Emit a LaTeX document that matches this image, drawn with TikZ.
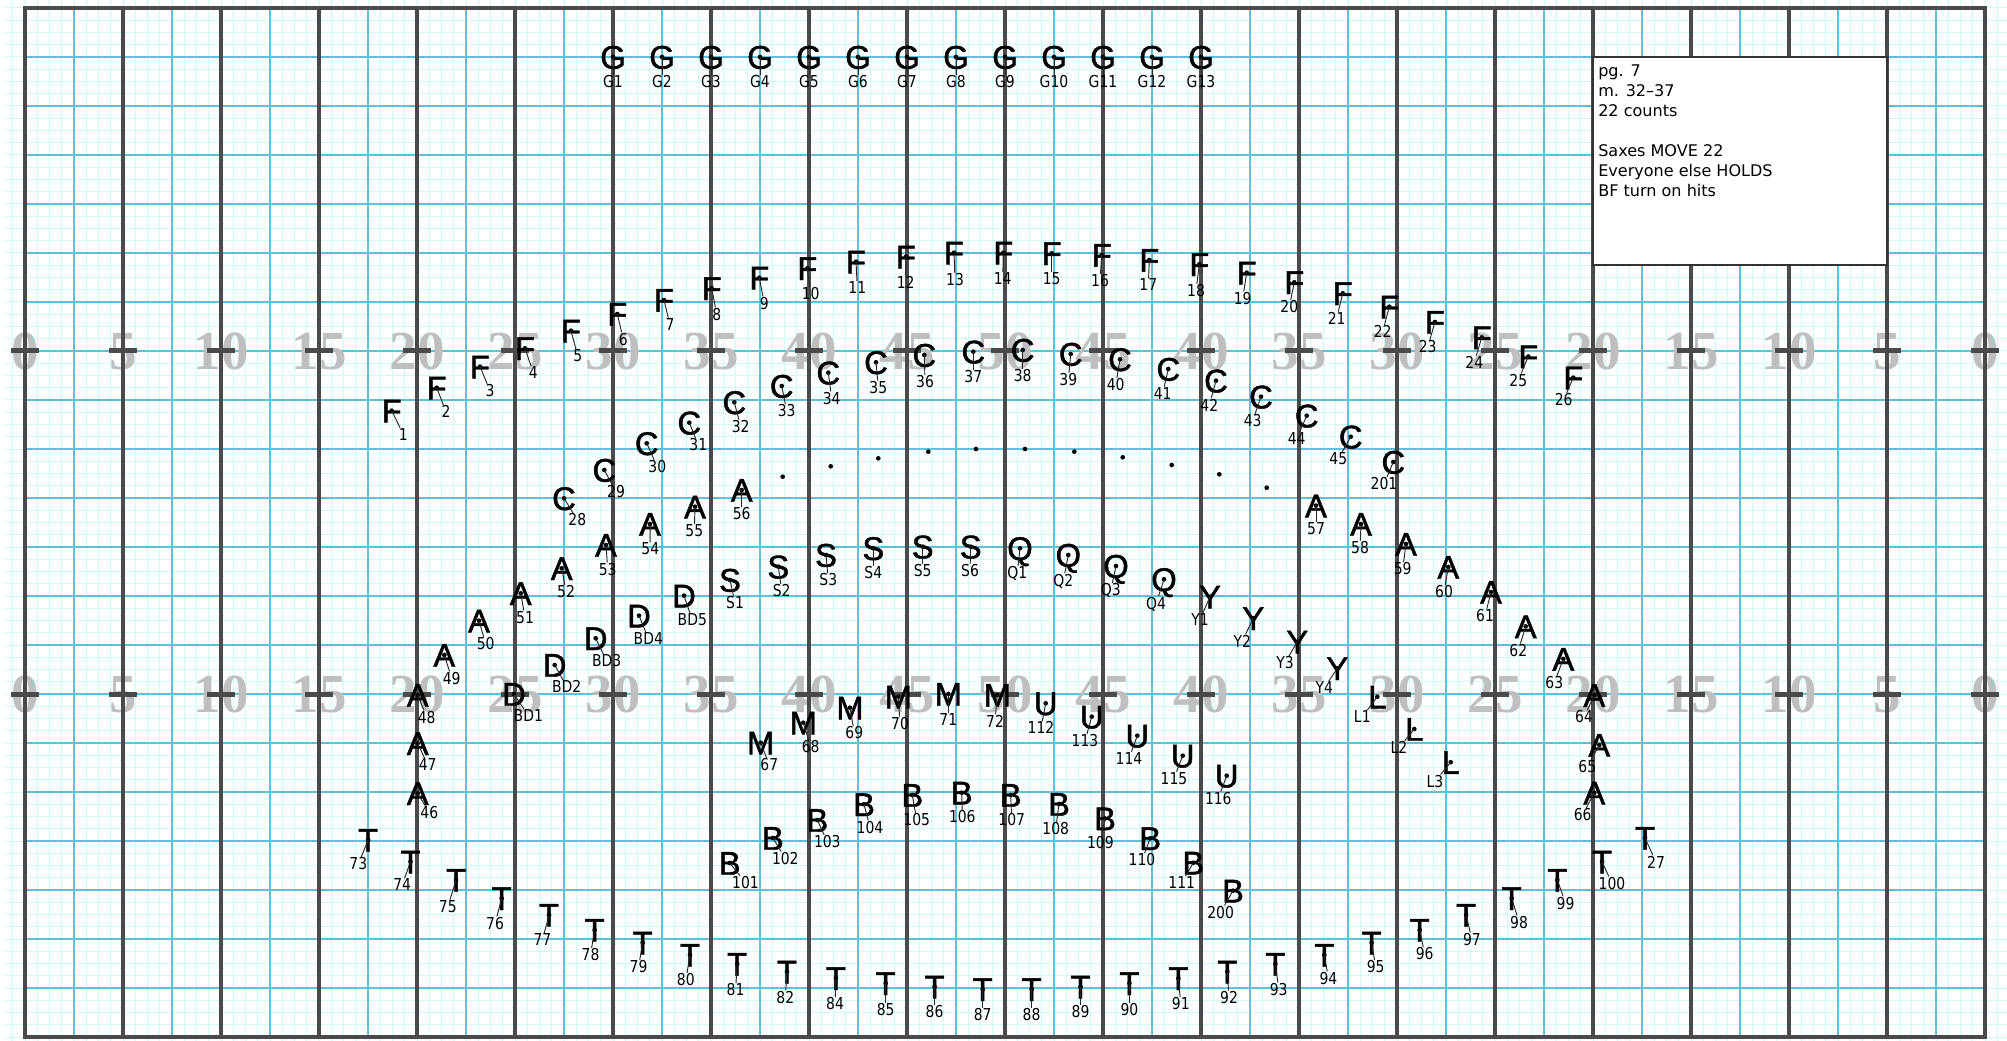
\documentclass[tikz,border=0pt]{standalone}
\usepackage{fontspec}
\setmainfont{DejaVu Sans}
\newfontfamily\symfont[FakeBold=1.3]{Liberation Sans}
\newfontfamily\lblfont[FakeStretch=0.85]{DejaVu Sans}
\newfontfamily\yardfont{Liberation Serif}
\definecolor{minorc}{HTML}{CCFBFF}
\definecolor{medc}{HTML}{5EC1D9}
\definecolor{yardc}{HTML}{4A4A4A}
\definecolor{numc}{HTML}{BFBFBF}
\tikzset{
 minorln/.style={draw=minorc, line width=0.3mm},
 medln/.style={draw=medc, line width=0.55mm},
 yardln/.style={draw=yardc, line width=1.2mm},
 hashmk/.style={draw=yardc, line width=1.5mm},
 yardnum/.style={text=numc, font=\yardfont\bfseries\fontsize{47}{47}\selectfont, inner sep=0, text height=31.5pt, text depth=0pt},
 symb/.style={font=\symfont\fontsize{28}{28}\selectfont, inner sep=0, text height=20pt, text depth=0pt},
 dotn/.style={circle, fill=black, inner sep=0, minimum size=1.4mm},
 lbl/.style={font=\lblfont\fontsize{14}{14}\selectfont, inner sep=0.3pt},
 conn/.style={draw=black!85, line width=0.28mm},
 infotxt/.style={font=\fontsize{13.7}{17}\selectfont, inner sep=0, anchor=base west},
 infobox/.style={draw=black!80, fill=white, line width=0.6mm},
}
\newcommand\drillpt[7]{%
  \node[symb] (#1s) at ({#3},{#4}) {#2};
  \node[dotn] (#1) at ({#3},{#4}) {};
  \node[lbl] (#1l) at ({#6},{#7}) {#5};
  \draw[conn] (#1.center) -- (#1l);
}
\begin{document}
\begin{tikzpicture}[x=0.3mm, y=-0.3mm]
\useasboundingbox (0,0) rectangle (2007,1041);
% minor grid
\foreach \k in {-1,...,161} \draw[minorln] ({25+12.25*\k},0) -- ({25+12.25*\k},1041);
\foreach \j in {0,...,84} \draw[minorln] (5,{8+12.25*\j}) -- (2007,{8+12.25*\j});
% medium grid
\foreach \k in {0,...,19} \draw[medln] ({74+98*\k},8) -- ({74+98*\k},1037);
\foreach \j in {1,...,20} \draw[medln] (25,{8+49*\j}) -- (1985,{8+49*\j});
% yard numbers
\foreach \k [evaluate=\k as \v using {int(5*min(\k,20-\k))}] in {0,...,20} {
  \node[yardnum] (yna\k) at ({25+98*\k},351) {\v};
  \node[yardnum] (ynb\k) at ({25+98*\k},694) {\v};
}
% yard lines and border
\foreach \k in {0,...,20} \draw[yardln] ({25+98*\k},8) -- ({25+98*\k},1037);
\draw[yardln] (25,8) rectangle (1985,1037);
% hashes
\foreach \k in {0,...,20} {
  \draw[hashmk] ({11+98*\k},351) -- ({39+98*\k},351);
  \draw[hashmk] ({11+98*\k},694) -- ({39+98*\k},694);
}
% info box
\draw[infobox] (1593,57) rectangle (1887,265);
\node[infotxt] (i1) at (1598,77) {pg. 7};
\node[infotxt] (i2) at (1598,97) {m. 32–37};
\node[infotxt] (i3) at (1598,117) {22 counts};
\node[infotxt] (i4) at (1598,157) {Saxes MOVE 22};
\node[infotxt] (i5) at (1598,177) {Everyone else HOLDS};
\node[infotxt] (i6) at (1598,197) {BF turn on hits};
% G
\drillpt{g1}{G}{613}{57}{G1}{613}{82}
\drillpt{g2}{G}{662}{57}{G2}{662}{82}
\drillpt{g3}{G}{711}{57}{G3}{711}{82}
\drillpt{g4}{G}{760}{57}{G4}{760}{82}
\drillpt{g5}{G}{809}{57}{G5}{809}{82}
\drillpt{g6}{G}{858}{57}{G6}{858}{82}
\drillpt{g7}{G}{907}{57}{G7}{907}{82}
\drillpt{g8}{G}{956}{57}{G8}{956}{82}
\drillpt{g9}{G}{1005}{57}{G9}{1005}{82}
\drillpt{g10}{G}{1054}{57}{G10}{1054}{82}
\drillpt{g11}{G}{1103}{57}{G11}{1103}{82}
\drillpt{g12}{G}{1152}{57}{G12}{1152}{82}
\drillpt{g13}{G}{1201}{57}{G13}{1201}{82}
% F
\drillpt{f1}{F}{391.7}{410.7}{1}{403.3}{434.3}
\drillpt{f2}{F}{436.7}{387.7}{2}{446}{411.7}
\drillpt{f3}{F}{480}{366.7}{3}{490}{390.7}
\drillpt{f4}{F}{525}{348.3}{4}{533.3}{372.7}
\drillpt{f5}{F}{571}{330.7}{5}{577.7}{355.7}
\drillpt{f6}{F}{617.3}{314}{6}{623.3}{339.3}
\drillpt{f7}{F}{664}{300}{7}{670}{325}
\drillpt{f8}{F}{711.7}{288.3}{8}{716.7}{314.3}
\drillpt{f9}{F}{759.3}{277.7}{9}{764.3}{303.3}
\drillpt{f10}{F}{807.3}{268.3}{10}{810.7}{294}
\drillpt{f11}{F}{856}{261.7}{11}{857.3}{287.7}
\drillpt{f12}{F}{906}{256.7}{12}{905.7}{282.3}
\drillpt{f13}{F}{954}{252.7}{13}{955}{280}
\drillpt{f14}{F}{1003.3}{252.7}{14}{1002.7}{278.7}
\drillpt{f15}{F}{1051.7}{253.3}{15}{1051.7}{278.7}
\drillpt{f16}{F}{1101.7}{255}{16}{1100}{281}
\drillpt{f17}{F}{1149.3}{260}{17}{1148.3}{285}
\drillpt{f18}{F}{1199.3}{264.3}{18}{1196}{290.7}
\drillpt{f19}{F}{1246.7}{272.7}{19}{1242.7}{298.3}
\drillpt{f20}{F}{1294.3}{282.3}{20}{1289.3}{306.7}
\drillpt{f21}{F}{1342.7}{293.3}{21}{1336.7}{318.3}
\drillpt{f22}{F}{1389.3}{306.7}{22}{1382.7}{331.7}
\drillpt{f23}{F}{1435}{322}{23}{1427.7}{347}
\drillpt{f24}{F}{1481.7}{337.4}{24}{1474.3}{362.3}
\drillpt{f25}{F}{1528.3}{356.5}{25}{1518.3}{380.3}
\drillpt{f26}{F}{1573.3}{377.6}{26}{1563.7}{399.8}
% C
\drillpt{c28}{C}{564}{498.3}{28}{577.3}{520}
\drillpt{c29}{C}{604.3}{470}{29}{616}{491.7}
\drillpt{c30}{C}{646.7}{443.3}{30}{657.3}{466.7}
\drillpt{c31}{C}{689.3}{422.7}{31}{698.3}{445}
\drillpt{c32}{C}{734.3}{402.3}{32}{740.7}{426.7}
\drillpt{c33}{C}{781.7}{386}{33}{786.7}{410.7}
\drillpt{c34}{C}{828.3}{372.7}{34}{831.7}{398.3}
\drillpt{c35}{C}{876}{362.3}{35}{878.3}{387.3}
\drillpt{c36}{C}{924.3}{355}{36}{925}{381.7}
\drillpt{c37}{C}{973.3}{351.7}{37}{973.3}{376.7}
\drillpt{c38}{C}{1022.7}{350}{38}{1022.7}{375.7}
\drillpt{c39}{C}{1070.7}{354}{39}{1068.3}{380}
\drillpt{c40}{C}{1120}{359.3}{40}{1115.7}{385}
\drillpt{c41}{C}{1168.3}{369}{41}{1162.7}{393.3}
\drillpt{c42}{C}{1216}{380.7}{42}{1209.3}{405}
\drillpt{c43}{C}{1261}{396.7}{43}{1252.7}{420.7}
\drillpt{c44}{C}{1306.7}{415.7}{44}{1296.7}{439}
\drillpt{c45}{C}{1350.7}{436.7}{45}{1338.3}{459}
\drillpt{c201}{C}{1393.3}{462}{201}{1384}{484}
% plain dots
\node[dotn] (d1) at (782.7,476.7) {};
\node[dotn] (d2) at (830.7,466.3) {};
\node[dotn] (d3) at (878.3,458.3) {};
\node[dotn] (d4) at (928.3,451.7) {};
\node[dotn] (d5) at (976,449) {};
\node[dotn] (d6) at (1025,449) {};
\node[dotn] (d7) at (1074.3,451.7) {};
\node[dotn] (d8) at (1122.7,457.3) {};
\node[dotn] (d9) at (1171.7,465) {};
\node[dotn] (d10) at (1219.3,474.3) {};
\node[dotn] (d11) at (1266.7,487.7) {};
% A
\drillpt{a46}{A}{417.7}{793.3}{46}{429.3}{812.7}
\drillpt{a47}{A}{417.7}{743.3}{47}{427.7}{765}
\drillpt{a48}{A}{417.7}{695}{48}{426.7}{717.3}
\drillpt{a49}{A}{444.3}{655}{49}{451.7}{678.3}
\drillpt{a50}{A}{479}{620.7}{50}{485.7}{644}
\drillpt{a51}{A}{520.7}{593.3}{51}{525}{617.3}
\drillpt{a52}{A}{561.7}{568.3}{52}{566}{591.7}
\drillpt{a53}{A}{606}{545}{53}{607.7}{569.3}
\drillpt{a54}{A}{650}{524}{54}{650.3}{549}
\drillpt{a55}{A}{695}{506.7}{55}{694.3}{530.7}
\drillpt{a56}{A}{741.7}{490}{56}{741.7}{514}
\drillpt{a57}{A}{1316}{505.6}{57}{1316}{529}
\drillpt{a58}{A}{1361}{524}{58}{1360}{547.5}
\drillpt{a59}{A}{1406}{544}{59}{1402.7}{569}
\drillpt{a60}{A}{1448.3}{567}{60}{1444}{592}
\drillpt{a61}{A}{1491}{592}{61}{1485}{616}
\drillpt{a62}{A}{1525.7}{626.4}{62}{1518.3}{650.4}
\drillpt{a63}{A}{1563.3}{658.9}{63}{1554.3}{682.6}
\drillpt{a64}{A}{1594.3}{695.2}{64}{1584}{717}
\drillpt{a65}{A}{1599.3}{745}{65}{1587.3}{766.8}
\drillpt{a66}{A}{1594.3}{792.8}{66}{1582.7}{814.6}
% D
\drillpt{bd1}{D}{514}{694}{BD1}{528.3}{715.7}
\drillpt{bd2}{D}{554.7}{665}{BD2}{566.7}{686.7}
\drillpt{bd3}{D}{595.7}{638.3}{BD3}{606.7}{661}
\drillpt{bd4}{D}{639}{615.7}{BD4}{648.3}{638.3}
\drillpt{bd5}{D}{684}{595.7}{BD5}{692.3}{620}
% S
\drillpt{s1}{S}{730}{580}{S1}{735}{602.7}
\drillpt{s2}{S}{778.3}{566.7}{S2}{781.7}{590.7}
\drillpt{s3}{S}{826}{555}{S3}{828.3}{580}
\drillpt{s4}{S}{873.3}{548.3}{S4}{873.3}{572.7}
\drillpt{s5}{S}{922.7}{546.7}{S5}{922.7}{570.7}
\drillpt{s6}{S}{970.7}{546.7}{S6}{970}{570.7}
% Q
\drillpt{q1}{Q}{1020}{548.3}{Q1}{1017.3}{573.3}
\drillpt{q2}{Q}{1068.3}{555}{Q2}{1063.3}{581}
\drillpt{q3}{Q}{1116}{566}{Q3}{1110.7}{590.7}
\drillpt{q4}{Q}{1164}{579.3}{Q4}{1156}{604}
% Y
\drillpt{y1}{Y}{1210}{596.7}{Y1}{1200}{619.3}
\drillpt{y2}{Y}{1253.3}{618.3}{Y2}{1242.3}{641}
\drillpt{y3}{Y}{1297.3}{641.7}{Y3}{1285}{662.7}
\drillpt{y4}{Y}{1337.3}{668.3}{Y4}{1324.3}{687.7}
% L
\drillpt{l1}{L}{1377.3}{696.7}{L1}{1362.3}{716.7}
\drillpt{l2}{L}{1414.3}{729}{L2}{1399}{747.7}
\drillpt{l3}{L}{1450.7}{762.2}{L3}{1435}{781.3}
% M
\drillpt{m67}{M}{760.7}{742.7}{67}{769.3}{765}
\drillpt{m68}{M}{803.3}{722.7}{68}{810.7}{746.7}
\drillpt{m69}{M}{850}{707.7}{69}{854.3}{732.7}
\drillpt{m70}{M}{898.3}{696.7}{70}{900}{723.3}
\drillpt{m71}{M}{948.3}{694}{71}{948.3}{719.3}
\drillpt{m72}{M}{997.3}{695}{72}{995}{721}
% U
\drillpt{u112}{U}{1045.7}{703.3}{112}{1041}{727.7}
\drillpt{u113}{U}{1091.7}{716.7}{113}{1085}{741}
\drillpt{u114}{U}{1137.3}{735.7}{114}{1129}{758.3}
\drillpt{u115}{U}{1182.7}{755.7}{115}{1174}{778.3}
\drillpt{u116}{U}{1226.7}{775.7}{116}{1218.3}{798.3}
% B
\drillpt{b101}{B}{729.8}{863}{101}{745.5}{882.7}
\drillpt{b102}{B}{772.9}{838}{102}{785.3}{858.3}
\drillpt{b103}{B}{817.3}{820}{103}{827.3}{841.7}
\drillpt{b104}{B}{864}{804.3}{104}{870}{827.3}
\drillpt{b105}{B}{912.3}{795}{105}{916.7}{820}
\drillpt{b106}{B}{961.7}{792.7}{106}{962.3}{816.7}
\drillpt{b107}{B}{1010.7}{795}{107}{1011.7}{820}
\drillpt{b108}{B}{1059}{804}{108}{1055.7}{829}
\drillpt{b109}{B}{1105}{818.5}{109}{1100.4}{842.3}
\drillpt{b110}{B}{1150.2}{838.3}{110}{1142}{860}
\drillpt{b111}{B}{1193.3}{862.7}{111}{1181.7}{882.7}
\drillpt{b200}{B}{1233}{890.7}{200}{1220.6}{912.3}
% T
\drillpt{t73}{T}{368.2}{840}{73}{358.3}{864}
\drillpt{t74}{T}{410.5}{861.7}{74}{402.2}{885}
\drillpt{t75}{T}{456.1}{880}{75}{447.8}{906.7}
\drillpt{t76}{T}{501.7}{898.3}{76}{495.1}{923.3}
\drillpt{t77}{T}{549}{915}{77}{542.4}{940}
\drillpt{t78}{T}{594.6}{930}{78}{590.5}{955}
\drillpt{t79}{T}{642.7}{942.7}{79}{638.6}{966.7}
\drillpt{t80}{T}{690}{955}{80}{685.8}{980}
\drillpt{t81}{T}{737.2}{964}{81}{735.6}{990}
\drillpt{t82}{T}{787}{971.7}{82}{785.3}{997.3}
\drillpt{t84}{T}{835.9}{978.3}{84}{835.1}{1004}
\drillpt{t85}{T}{885.7}{983.3}{85}{885.7}{1009.3}
\drillpt{t86}{T}{934.6}{986.7}{86}{934.6}{1011.7}
\drillpt{t87}{T}{982.7}{989.3}{87}{982.7}{1015}
\drillpt{t88}{T}{1031.6}{989.3}{88}{1031.6}{1015}
\drillpt{t89}{T}{1080.5}{986.7}{89}{1080.5}{1011.7}
\drillpt{t90}{T}{1129.4}{983.3}{90}{1129.4}{1009.3}
\drillpt{t91}{T}{1178.4}{978.3}{91}{1180.8}{1004}
\drillpt{t92}{T}{1227.3}{971.7}{92}{1229}{997.3}
\drillpt{t93}{T}{1275.4}{964}{93}{1278.7}{989.3}
\drillpt{t94}{T}{1324.3}{955}{94}{1328.4}{978.3}
\drillpt{t95}{T}{1371.6}{942.7}{95}{1375.7}{966.7}
\drillpt{t96}{T}{1419.7}{930}{96}{1424.7}{954}
\drillpt{t97}{T}{1466.1}{915}{97}{1471.9}{939.3}
\drillpt{t98}{T}{1511.7}{898.3}{98}{1519.1}{922.3}
\drillpt{t99}{T}{1557.3}{880}{99}{1565.6}{903.3}
\drillpt{t100}{T}{1602}{861.7}{100}{1612}{883.3}
\drillpt{t27}{T}{1645}{838}{27}{1656}{862}
\end{tikzpicture}
\end{document}
